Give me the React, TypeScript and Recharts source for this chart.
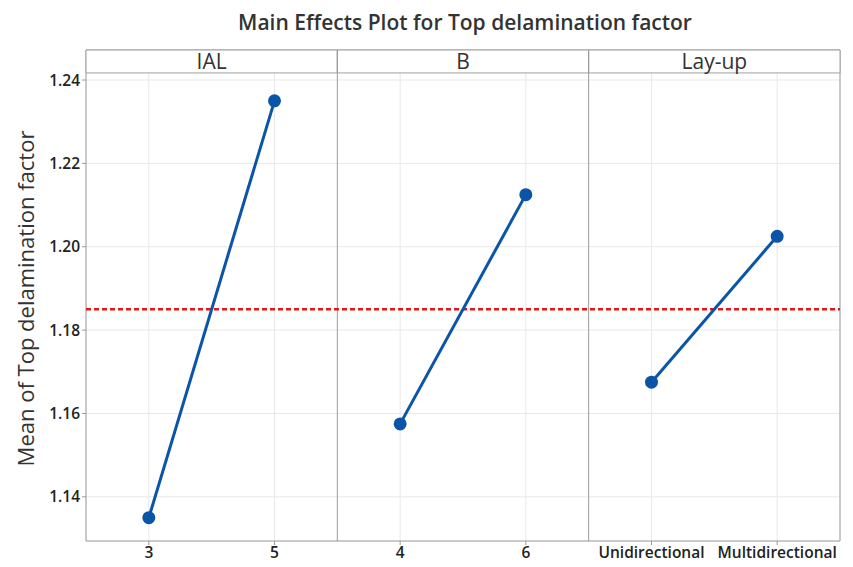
import React from 'react';
import { LineChart, Line, XAxis, YAxis, CartesianGrid, ReferenceLine, ReferenceArea } from 'recharts';

const factors = ['IAL', 'B', 'Lay-up'];
const levels = ['3', '5', '4', '6', 'Unidirectional', 'Multidirectional'];
const ialMeans = [1.135, 1.235];
const bMeans = [1.1575, 1.2125];
const layupMeans = [1.1675, 1.2025];
const overallMean = 1.185;
const yTicks = [1.14, 1.16, 1.18, 1.2, 1.22, 1.24];

const Y_MIN = 1.1294;
const Y_MAX = 1.2472;
const STRIP_BOTTOM = 1.2417;

const FONT = '"Open Sans", "Noto Sans", sans-serif';
const BLUE = '#0a55a8';

// one row per level, each factor only has values on its own two levels
const data = levels.map((label, i) => ({
  x: i + 0.5,
  label,
  ial: i < 2 ? ialMeans[i] : null,
  b: i >= 2 && i < 4 ? bMeans[i - 2] : null,
  layup: i >= 4 ? layupMeans[i - 4] : null,
}));

const App: React.FC = () => {
  return (
    <div style={{ position: 'absolute', left: 0, top: 0, width: 853, height: 567, background: '#fff' }}>
      <div
        style={{
          position: 'absolute',
          left: 0,
          top: 8,
          width: 930,
          textAlign: 'center',
          fontFamily: FONT,
          fontSize: 21,
          fontWeight: 600,
          color: '#333',
        }}
      >
        Main Effects Plot for Top delamination factor
      </div>
      <LineChart width={853} height={567} data={data} margin={{ top: 50, right: 13, bottom: 4, left: 26 }}>
        <CartesianGrid stroke="#e8e8e8" strokeWidth={1} />
        <XAxis
          dataKey="x"
          type="number"
          domain={[0, 6]}
          ticks={data.map(d => d.x)}
          tickFormatter={(v: number) => levels[Math.floor(v)]}
          height={22}
          axisLine={false}
          tickLine={{ stroke: '#999' }}
          tickSize={4}
          tick={{ fill: '#222', fontSize: 15.5, fontWeight: 600, fontFamily: FONT }}
          interval={0}
        />
        <YAxis
          type="number"
          domain={[Y_MIN, Y_MAX]}
          ticks={yTicks}
          tickFormatter={(v: number) => v.toFixed(2)}
          width={60}
          axisLine={false}
          tickLine={{ stroke: '#999' }}
          tickSize={4}
          tick={{ fill: '#222', fontSize: 15.5, fontWeight: 600, fontFamily: FONT }}
          label={{
            value: 'Mean of Top delamination factor',
            angle: -90,
            position: 'insideLeft',
            dx: -5,
            dy: 3,
            style: { fill: '#333', fontSize: 22, fontFamily: FONT, textAnchor: 'middle' },
          }}
        />
        <ReferenceArea x1={0} x2={6} y1={Y_MIN} y2={Y_MAX} fill="none" stroke="#a0a0a0" strokeWidth={1} />
        {factors.map((f, i) => (
          <ReferenceArea
            key={f}
            x1={i * 2}
            x2={i * 2 + 2}
            y1={STRIP_BOTTOM}
            y2={Y_MAX}
            fill="#fff"
            fillOpacity={1}
            stroke="#a0a0a0"
            strokeWidth={1}
            label={{ value: f, position: 'center', fill: '#333', fontSize: 21, fontFamily: FONT }}
          />
        ))}
        <ReferenceLine x={2} stroke="#999" strokeWidth={1} />
        <ReferenceLine x={4} stroke="#999" strokeWidth={1} />
        <ReferenceLine y={overallMean} stroke="#e0161b" strokeWidth={2.5} strokeDasharray="5 3" />
        <Line dataKey="ial" stroke={BLUE} strokeWidth={3} dot={{ r: 5, fill: BLUE, stroke: BLUE }} isAnimationActive={false} />
        <Line dataKey="b" stroke={BLUE} strokeWidth={3} dot={{ r: 5, fill: BLUE, stroke: BLUE }} isAnimationActive={false} />
        <Line dataKey="layup" stroke={BLUE} strokeWidth={3} dot={{ r: 5, fill: BLUE, stroke: BLUE }} isAnimationActive={false} />
      </LineChart>
    </div>
  );
};

export default App;
